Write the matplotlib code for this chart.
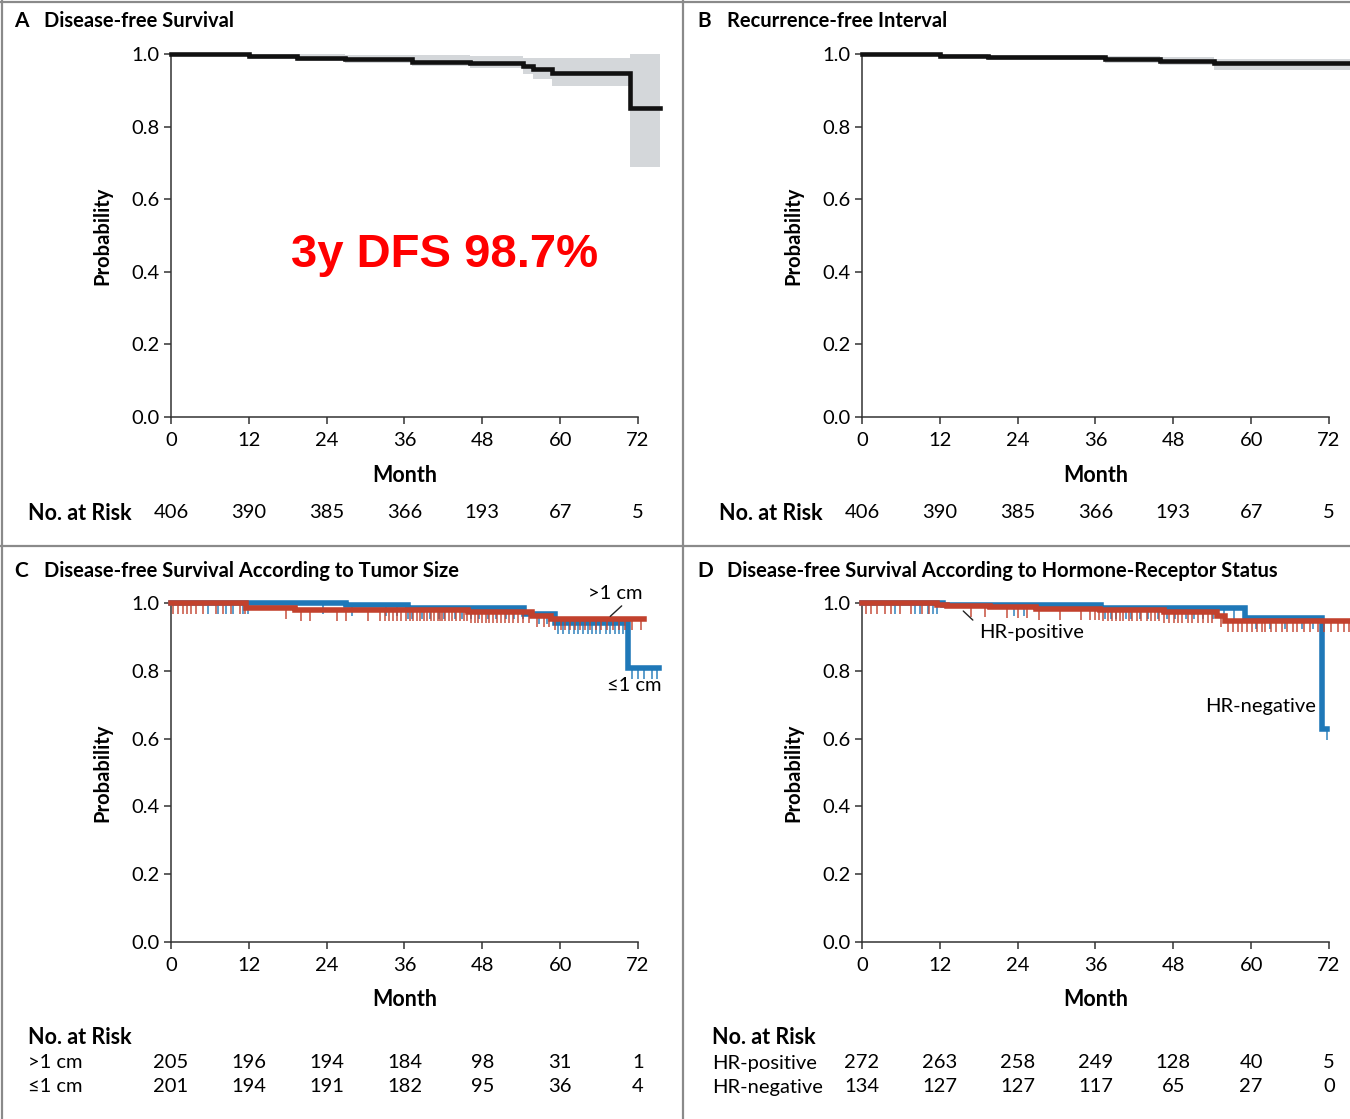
import numpy as np
import matplotlib.pyplot as plt
from matplotlib.lines import Line2D

W, H = 1350, 1119
plt.rcParams['font.family'] = ['Lato', 'DejaVu Sans']

BLACK = '#111111'
BAND = '#d4d7da'
BLUE = '#1f78b8'
RED = '#c2412d'
GRID = '#8a8a8a'

months = [0, 12, 24, 36, 48, 60, 72]
yticks = [0.0, 0.2, 0.4, 0.6, 0.8, 1.0]

# A: disease-free survival, all patients
a_times = [0, 12.0, 19.5, 26.8, 37.1, 46.1, 54.3, 55.8, 58.7, 70.8]
a_surv = [1.0, 0.994, 0.990, 0.987, 0.979, 0.975, 0.967, 0.959, 0.949, 0.852]
a_low = [1.0, 0.986, 0.980, 0.975, 0.966, 0.961, 0.945, 0.930, 0.911, 0.689]
a_up = [1.0, 1.0, 0.999, 0.998, 0.996, 0.994, 0.990, 0.989, 0.989, 1.0]
a_end = 75.4
a_risk = [406, 390, 385, 366, 193, 67, 5]

# B: recurrence-free interval
b_times = [0, 12.0, 19.5, 37.5, 46.0, 54.2]
b_surv = [1.0, 0.994, 0.991, 0.986, 0.982, 0.974]
b_low = [1.0, 0.988, 0.983, 0.976, 0.970, 0.955]
b_up = [1.0, 1.0, 0.998, 0.995, 0.993, 0.987]
b_end = 75.6
b_risk = [406, 390, 385, 366, 193, 67, 5]

# C: by tumor size
c_big_times = [0, 11.6, 19.1, 45.8, 55.6, 58.6]
c_big_surv = [1.0, 0.985, 0.979, 0.972, 0.962, 0.953]
c_big_end = 73.0
c_big_cens = [0.3, 1.1, 1.8, 2.4, 3.1, 3.9, 4.9, 7.0, 8.0, 9.3, 10.6, 11.4,
              17.8, 20.0, 21.4, 25.6, 27.0, 30.4, 32.2, 33.0, 33.6, 34.3,
              34.9, 35.5, 36.2, 36.8, 37.3, 37.9, 38.4, 39.0, 39.5, 40.1,
              40.6, 41.2, 41.5, 41.8, 42.3, 42.9, 43.4, 44.0, 44.6, 45.1,
              45.7, 46.3, 46.8, 47.4, 48.0, 48.5, 49.1, 49.7, 50.3, 50.9,
              51.5, 52.1, 52.8, 53.5, 54.3, 55.2, 56.4, 57.5, 58.3, 59.2,
              60.1, 60.8, 61.5, 62.3, 63.0, 63.8, 64.6, 65.5, 66.3, 67.2,
              68.1, 69.0, 70.0, 71.1, 72.4]
c_small_times = [0, 27.0, 36.5, 54.5, 59.2, 70.5]
c_small_surv = [1.0, 0.995, 0.985, 0.969, 0.941, 0.807]
c_small_end = 75.3
c_small_cens = [5.7, 7.2, 8.5, 9.6, 11.1, 11.9, 23.4, 27.9, 33.1, 34.8,
                36.5, 37.2, 38.7, 39.9, 41.3, 42.1, 43.8, 44.9, 46.2, 47.5,
                48.8, 50.1, 51.6, 52.9, 54.2, 56.8, 57.9, 59.6, 60.4, 61.3,
                62.1, 62.8, 63.5, 64.3, 64.9, 65.6, 66.2, 67.0, 67.7, 68.4,
                69.1, 69.7, 71.0, 72.0, 73.0, 74.1, 75.0]
c_rows = ['>1 cm', '≤1 cm']
c_risk_big = [205, 196, 194, 184, 98, 31, 1]
c_risk_small = [201, 194, 191, 182, 95, 36, 4]

# D: by hormone-receptor status
d_pos_times = [0, 11.5, 13.1, 19.7, 26.9, 36.7, 46.5, 54.7, 56.0]
d_pos_surv = [1.0, 0.995, 0.992, 0.988, 0.982, 0.979, 0.973, 0.962, 0.947]
d_pos_end = 75.6
d_pos_cens = [0.6, 1.4, 2.3, 3.5, 4.4, 5.9, 7.6, 9.2, 10.4, 16.8, 19.0,
              22.4, 24.1, 25.5, 27.3, 30.6, 33.8, 35.1, 36.0, 36.6, 37.1,
              37.9, 38.5, 39.2, 39.8, 40.3, 41.1, 41.7, 42.4, 43.0, 43.9,
              44.5, 45.2, 45.8, 46.6, 47.3, 48.1, 48.7, 49.4, 50.2, 50.9,
              51.8, 52.5, 53.3, 54.0, 55.4, 56.5, 57.2, 57.9, 58.6, 59.4,
              60.1, 60.9, 61.6, 62.2, 63.1, 63.8, 64.7, 65.5, 66.4, 67.1,
              68.2, 69.0, 70.3, 71.2, 72.3, 73.4, 74.3, 75.1]
d_neg_times = [0, 12.5, 36.9, 59.1, 70.9]
d_neg_surv = [1.0, 0.994, 0.986, 0.956, 0.627]
d_neg_end = 71.7
d_neg_cens = [5.1, 8.1, 9.0, 10.2, 11.0, 11.5, 23.5, 24.9, 37.4, 38.4,
              39.1, 40.7, 41.4, 42.8, 44.1, 45.6, 47.0, 48.3, 49.9, 51.2,
              52.6, 54.1, 55.8, 57.3, 60.7, 62.9, 65.2, 67.8, 69.6, 71.7]
d_rows = ['HR-positive', 'HR-negative']
d_risk_pos = [272, 263, 258, 249, 128, 40, 5]
d_risk_neg = [134, 127, 127, 117, 65, 27, 0]


def fx(px):
    return px / W


def fy(py):
    return 1 - py / H


def step_xy(times, surv, end):
    return list(times) + [end], list(surv) + [surv[-1]]


def surv_at(times, surv, t):
    idx = np.searchsorted(times, t, side='right') - 1
    return np.asarray(surv)[idx]


def km(ax, times, surv, end, color, lw, cens=None):
    x, y = step_xy(times, surv, end)
    ax.step(x, y, where='post', color=color, lw=lw, clip_on=False,
            solid_joinstyle='miter', zorder=3)
    if cens is not None:
        c = np.array(cens)
        s = surv_at(times, surv, c)
        ax.vlines(c, s - 0.032, s, color=color, lw=1.2, alpha=0.85,
                  clip_on=False, zorder=3)


def band(ax, times, low, up, end):
    x, lo = step_xy(times, low, end)
    _, hi = step_xy(times, up, end)
    ax.fill_between(x, lo, hi, step='post', color=BAND, lw=0, zorder=2,
                    clip_on=False)


def style(ax):
    ax.set_xlim(0, 75.5)
    ax.set_ylim(0, 1.0)
    ax.set_xticks(months)
    ax.set_yticks(yticks)
    ax.set_xticklabels([str(m) for m in months])
    ax.set_yticklabels([f'{v:.1f}' for v in yticks])
    for s in ['top', 'right']:
        ax.spines[s].set_visible(False)
    ax.spines['bottom'].set_bounds(0, 72)
    for s in ['left', 'bottom']:
        ax.spines[s].set_linewidth(1.1)
        ax.spines[s].set_color('#333333')
    ax.tick_params(axis='both', direction='out', length=5, width=1.1,
                   color='#333333', labelsize=14.5)
    ax.tick_params(axis='x', pad=6)
    ax.tick_params(axis='y', pad=3)
    ax.set_facecolor('none')


fig = plt.figure(figsize=(W / 100, H / 100), dpi=100)

left_l, left_r = 171, 862
ax_w = 489.7
axA = fig.add_axes([fx(left_l), fy(417), fx(ax_w), 363 / H])
axB = fig.add_axes([fx(left_r), fy(417), fx(ax_w), 363 / H])
axC = fig.add_axes([fx(left_l), fy(942), fx(ax_w), 339 / H])
axD = fig.add_axes([fx(left_r), fy(942), fx(ax_w), 339 / H])

for ax in [axA, axB, axC, axD]:
    style(ax)
    ax.set_ylabel('Probability', fontsize=14.5, fontweight='bold')
    ax.yaxis.set_label_coords(-0.12, 0.5)

# panel A
band(axA, a_times, a_low, a_up, a_end)
km(axA, a_times, a_surv, a_end, BLACK, 3.3)
axA.text(42.2, 0.445, '3y DFS 98.7%', color='#ff0000', fontsize=34,
         fontweight='bold', family=['Liberation Sans', 'DejaVu Sans'],
         ha='center', va='center')

# panel B
band(axB, b_times, b_low, b_up, b_end)
km(axB, b_times, b_surv, b_end, BLACK, 3.3)

# panel C
km(axC, c_small_times, c_small_surv, c_small_end, BLUE, 4.0, c_small_cens)
km(axC, c_big_times, c_big_surv, c_big_end, RED, 4.0, c_big_cens)
axC.text(68.5, 1.027, '>1 cm', fontsize=14.5, ha='center', va='center')
axC.annotate('', xy=(67.4, 0.955), xytext=(69.8, 0.997),
             arrowprops=dict(arrowstyle='-', color='#222222', lw=1.0),
             annotation_clip=False)
axC.text(71.4, 0.758, '≤1 cm', fontsize=14.5, ha='center', va='center')

# panel D
km(axD, d_neg_times, d_neg_surv, d_neg_end, BLUE, 4.0, d_neg_cens)
km(axD, d_pos_times, d_pos_surv, d_pos_end, RED, 4.0, d_pos_cens)
axD.annotate('', xy=(17.4, 0.944), xytext=(15.3, 0.982),
             arrowprops=dict(arrowstyle='-', color='#222222', lw=1.0))
axD.text(18.1, 0.914, 'HR-positive', fontsize=14.5, ha='left', va='center')
axD.text(61.4, 0.696, 'HR-negative', fontsize=14.5, ha='center', va='center')

# panel titles
titles = [(14, 21, 'A', 'Disease-free Survival'),
          (697, 21, 'B', 'Recurrence-free Interval'),
          (14, 571, 'C', 'Disease-free Survival According to Tumor Size'),
          (697, 571, 'D', 'Disease-free Survival According to Hormone-Receptor Status')]
for px, py, letter, name in titles:
    fig.text(fx(px), fy(py), letter, fontsize=15, fontweight='bold',
             ha='left', va='center')
    fig.text(fx(px + 30), fy(py), name, fontsize=14.5, fontweight='bold',
             ha='left', va='center')

# x labels
for cx, py in [(left_l, 475), (left_r, 475), (left_l, 1000), (left_r, 1000)]:
    fig.text(fx(cx + 233.5), fy(py), 'Month', fontsize=15.5,
             fontweight='bold', ha='center', va='center')

# numbers at risk
scale = 467 / 72
for x0, risk in [(left_l, a_risk), (left_r, b_risk)]:
    fig.text(fx(x0 - 143), fy(513), 'No. at Risk', fontsize=15.5,
             fontweight='bold', ha='left', va='center')
    for m, n in zip(months, risk):
        fig.text(fx(x0 + m * scale), fy(513), str(n), fontsize=14.5,
                 ha='center', va='center')

for x0, lx, rows, r1, r2 in [(left_l, 28, c_rows, c_risk_big, c_risk_small),
                             (left_r, 712, d_rows, d_risk_pos, d_risk_neg)]:
    fig.text(fx(lx), fy(1038), 'No. at Risk', fontsize=15.5,
             fontweight='bold', ha='left', va='center')
    for py, name, risk in [(1063, rows[0], r1), (1087, rows[1], r2)]:
        fig.text(fx(lx), fy(py), name, fontsize=14.5, ha='left',
                 va='center')
        for m, n in zip(months, risk):
            fig.text(fx(x0 + m * scale), fy(py), str(n), fontsize=14.5,
                     ha='center', va='center')

# panel frame lines
for xs, ys in [([683, 683], [0, H]), ([0, W], [546, 546]),
               ([1.5, 1.5], [0, H]), ([0, W], [1.5, 1.5])]:
    fig.add_artist(Line2D([fx(v) for v in xs], [fy(v) for v in ys],
                          color=GRID, lw=1.6, transform=fig.transFigure))

fig.savefig('out.png', dpi=100)
